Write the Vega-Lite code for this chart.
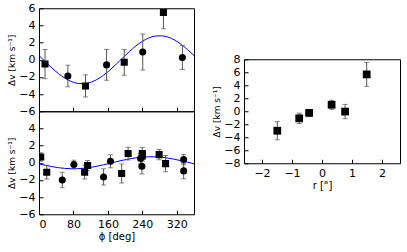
{
  "$schema": "https://vega.github.io/schema/vega-lite/v6.json",
  "padding": {"left": 7, "top": 1, "right": 3, "bottom": 3},
  "background": "white",
  "config": {
    "view": {"stroke": "black", "strokeWidth": 1},
    "axis": {"labelFont": "DejaVu Sans", "titleFont": "DejaVu Sans", "labelFontSize": 11, "titleFontSize": 9, "titleFontWeight": "normal", "grid": false, "domain": false, "tickColor": "black", "labelColor": "black", "titleColor": "black", "tickSize": -4, "labelPadding": 8, "labelOverlap": false, "titlePadding": 2}
  },
  "datasets": {
    "top": [
      {"phi": 14, "v": -0.5, "err": 1.7, "shape": "square"},
      {"phi": 67, "v": -1.9, "err": 1.25, "shape": "circle"},
      {"phi": 108, "v": -3.05, "err": 1.3, "shape": "square"},
      {"phi": 157, "v": -0.6, "err": 1.8, "shape": "circle"},
      {"phi": 198, "v": -0.3, "err": 1.5, "shape": "square"},
      {"phi": 241, "v": 0.9, "err": 2.1, "shape": "circle"},
      {"phi": 289, "v": 5.5, "err": 1.9, "shape": "square"},
      {"phi": 333, "v": 0.25, "err": 1.4, "shape": "circle"}
    ],
    "bottom": [
      {"phi": 4, "v": 0.67, "err": 0.5, "shape": "square"},
      {"phi": 18, "v": -1.1, "err": 0.8, "shape": "square"},
      {"phi": 54, "v": -2.0, "err": 0.9, "shape": "circle"},
      {"phi": 81, "v": -0.2, "err": 0.5, "shape": "circle"},
      {"phi": 106, "v": -1.1, "err": 0.8, "shape": "square"},
      {"phi": 113, "v": -0.33, "err": 0.6, "shape": "square"},
      {"phi": 150, "v": -1.65, "err": 0.95, "shape": "circle"},
      {"phi": 166, "v": 0.17, "err": 0.75, "shape": "circle"},
      {"phi": 192, "v": -1.26, "err": 1.1, "shape": "square"},
      {"phi": 207, "v": 1.07, "err": 0.75, "shape": "square"},
      {"phi": 236, "v": 0.49, "err": 0.6, "shape": "circle"},
      {"phi": 240, "v": 1.07, "err": 0.7, "shape": "square"},
      {"phi": 240, "v": 0.8, "err": 0.6, "shape": "square"},
      {"phi": 239, "v": -0.4, "err": 0.9, "shape": "circle"},
      {"phi": 279, "v": 0.95, "err": 0.6, "shape": "square"},
      {"phi": 294, "v": -0.1, "err": 0.95, "shape": "square"},
      {"phi": 336, "v": 0.37, "err": 0.6, "shape": "circle"},
      {"phi": 336, "v": -0.95, "err": 0.9, "shape": "circle"}
    ],
    "radial": [
      {"r": -1.49, "v": -3.0, "err": 1.4},
      {"r": -0.76, "v": -1.09, "err": 0.8},
      {"r": -0.43, "v": -0.25, "err": 0.5},
      {"r": 0.32, "v": 1.0, "err": 0.7},
      {"r": 0.77, "v": -0.05, "err": 1.1},
      {"r": 1.49, "v": 5.67, "err": 1.85}
    ],
    "curveTop": [
      {"phi": 0, "v": 0.486}, {"phi": 15, "v": -0.244}, {"phi": 30, "v": -0.958}, {"phi": 45, "v": -1.606},
      {"phi": 60, "v": -2.145}, {"phi": 75, "v": -2.538}, {"phi": 90, "v": -2.757}, {"phi": 105, "v": -2.789},
      {"phi": 120, "v": -2.631}, {"phi": 135, "v": -2.294}, {"phi": 150, "v": -1.8}, {"phi": 165, "v": -1.183},
      {"phi": 180, "v": -0.486}, {"phi": 195, "v": 0.244}, {"phi": 210, "v": 0.958}, {"phi": 225, "v": 1.606},
      {"phi": 240, "v": 2.145}, {"phi": 255, "v": 2.538}, {"phi": 270, "v": 2.757}, {"phi": 285, "v": 2.789},
      {"phi": 300, "v": 2.631}, {"phi": 315, "v": 2.294}, {"phi": 330, "v": 1.8}, {"phi": 345, "v": 1.183},
      {"phi": 360, "v": 0.486}
    ],
    "curveBottom": [
      {"phi": 0, "v": -0.122}, {"phi": 15, "v": -0.296}, {"phi": 30, "v": -0.45}, {"phi": 45, "v": -0.573},
      {"phi": 60, "v": -0.658}, {"phi": 75, "v": -0.697}, {"phi": 90, "v": -0.689}, {"phi": 105, "v": -0.634},
      {"phi": 120, "v": -0.536}, {"phi": 135, "v": -0.402}, {"phi": 150, "v": -0.239}, {"phi": 165, "v": -0.061},
      {"phi": 180, "v": 0.122}, {"phi": 195, "v": 0.296}, {"phi": 210, "v": 0.45}, {"phi": 225, "v": 0.573},
      {"phi": 240, "v": 0.658}, {"phi": 255, "v": 0.697}, {"phi": 270, "v": 0.689}, {"phi": 285, "v": 0.634},
      {"phi": 300, "v": 0.536}, {"phi": 315, "v": 0.402}, {"phi": 330, "v": 0.239}, {"phi": 345, "v": 0.061},
      {"phi": 360, "v": -0.122}
    ]
  },
  "hconcat": [
    {
      "spacing": 0,
      "bounds": "flush",
      "vconcat": [
        {
          "width": 155, "height": 103,
          "encoding": {
            "x": {"field": "phi", "type": "quantitative", "title": null, "scale": {"domain": [0, 360], "nice": false}, "axis": {"values": [0, 80, 160, 240, 320], "labels": false}},
            "y": {"field": "v", "type": "quantitative", "title": "Δv [km s⁻¹]", "scale": {"domain": [-6, 6], "nice": false}, "axis": {"values": [-6, -4, -2, 0, 2, 4, 6]}}
          },
          "layer": [
            {"data": {"name": "curveTop"}, "mark": {"type": "line", "color": "#0000ff", "strokeWidth": 1, "interpolate": "monotone", "clip": true}},
            {"data": {"name": "top"}, "mark": {"type": "errorbar", "color": "#555555", "ticks": {"size": 5}, "clip": true},
             "encoding": {"yError": {"field": "err"}}},
            {"data": {"name": "top"}, "mark": {"type": "point", "filled": true, "opacity": 1, "color": "black", "size": 50, "clip": true},
             "encoding": {"shape": {"field": "shape", "type": "nominal", "scale": {"domain": ["square", "circle"], "range": ["square", "circle"]}, "legend": null}}}
          ]
        },
        {
          "width": 155, "height": 103,
          "encoding": {
            "x": {"field": "phi", "type": "quantitative", "title": "ϕ [deg]", "scale": {"domain": [0, 360], "nice": false}, "axis": {"values": [0, 80, 160, 240, 320], "titleFontSize": 10, "titlePadding": 2}},
            "y": {"field": "v", "type": "quantitative", "title": "Δv [km s⁻¹]", "scale": {"domain": [-6, 6], "nice": false}, "axis": {"values": [-6, -4, -2, 0, 2, 4]}}
          },
          "layer": [
            {"data": {"name": "curveBottom"}, "mark": {"type": "line", "color": "#0000ff", "strokeWidth": 1, "interpolate": "monotone", "clip": true}},
            {"data": {"name": "bottom"}, "mark": {"type": "errorbar", "color": "#555555", "ticks": {"size": 5}, "clip": true},
             "encoding": {"yError": {"field": "err"}}},
            {"data": {"name": "bottom"}, "mark": {"type": "point", "filled": true, "opacity": 1, "color": "black", "size": 50, "clip": true},
             "encoding": {"shape": {"field": "shape", "type": "nominal", "scale": {"domain": ["square", "circle"], "range": ["square", "circle"]}, "legend": null}}}
          ]
        }
      ]
    },
    {
      "width": 156, "height": 104,
      "data": {"name": "radial"},
      "encoding": {
        "x": {"field": "r", "type": "quantitative", "title": "r [\"]", "scale": {"domain": [-2.6, 2.6], "nice": false}, "axis": {"values": [-2, -1, 0, 1, 2], "titleFontSize": 10, "titlePadding": 2}},
        "y": {"field": "v", "type": "quantitative", "title": "Δv [km s⁻¹]", "scale": {"domain": [-8, 8], "nice": false}, "axis": {"values": [-8, -6, -4, -2, 0, 2, 4, 6, 8]}}
      },
      "layer": [
        {"mark": {"type": "errorbar", "color": "#555555", "ticks": {"size": 5}}, "encoding": {"yError": {"field": "err"}}},
        {"mark": {"type": "point", "shape": "square", "filled": true, "opacity": 1, "color": "black", "size": 60}}
      ]
    }
  ],
  "spacing": 17,
  "center": true
}
